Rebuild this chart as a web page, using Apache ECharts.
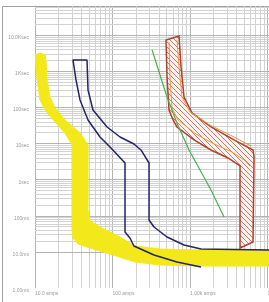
<!DOCTYPE html>
<html><head><meta charset="utf-8">
<script src="https://cdn.jsdelivr.net/npm/echarts@6/dist/echarts.min.js"></script>
<style>html,body{margin:0;padding:0;background:#fff}#c{width:269px;height:302px}</style>
</head><body><div id="c"></div>
<script>
// Axis ticks
const xTickValues = [10, 100, 1000, 10000];
const xTickLabels = ['10.0 amps', '100 amps', '1.00k amps', '10.0k amps'];
const yTickValues = [0.001, 0.01, 0.1, 1, 10, 100, 1000, 10000];
const yTickLabels = ['1.00ms', '10.0ms', '100ms', '1sec', '10sec', '100sec', '1Ksec', '10.0Ksec'];

// Yellow band (amps, seconds): outer edge then inner edge back
const yellowOuter = [[10,2845],[10.3,1094],[10.9,420],[11.6,161],[13.5,85.3],[18.1,39.6],[24.4,19.7],[30,9.15],[30,0.0405],[30.9,0.0243],[35.9,0.0166],[51.3,0.0128],[92.9,0.00875],[195,0.00525],[410,0.00434],[1346,0.00406],[10450,0.00406]];
const yellowInner = [[10450,0.0113],[1346,0.0113],[410,0.0120],[195,0.0146],[125,0.0259],[69,0.0490],[51.3,0.0718],[48.3,0.145],[48.3,9.15],[38.1,19.7],[24.4,45.1],[18.1,96.9],[15.6,195],[14.3,578],[13.9,1820],[13.5,2845],[11.6,3236]];

// Blue breaker curve
const blueCurve = [[1387,0.00382],[679,0.00525],[343,0.00820],[189,0.0146],[168,0.0243],[145,0.0356],[145,2.90],[92.9,8.05],[69,15.2],[48.3,45.1],[38.1,161],[33.8,578],[30.9,2070],[46.9,2070],[48.3,305],[56,85.3],[85,28.8],[125,15.2],[189,9.75],[233,6.65],[296,2.90],[296,0.0766],[343,0.0490],[505,0.0259],[837,0.0155],[1387,0.0120],[10450,0.0113]];

// Green curve
const greenCurve = [[324,3917],[505,195],[679,37.2],[971,6.65],[1866,0.519],[2748,0.0927]];

// Red hatched band outline
const redBand = [[490,7410],[505,700],[536,85.3],[604,45.1],[679,28.8],[1127,12.6],[1866,6.65],[3092,3.99],[4418,2.40],[4418,0.0128],[6500,0.0188],[6700,4.25],[6500,6.65],[3698,12.6],[1866,28.8],[1062,70.4],[837,195],[766,1324],[721,9570]];
const orangeLeft = [[536,6518],[552,700],[586,96.9],[700,45.1],[1194,18.4],[2042,9.75],[3483,5.85],[4977,3.51],[5943,2.40]];
const orangeRight = [[679,7410],[721,1324],[788,195],[1000,75.0],[1813,32.7],[3698,15.2],[6126,8.58]];

function gridVals(minExp, maxExp, maxVal) {
  const out = [];
  for (let e = minExp; e <= maxExp; e++) {
    for (let k = 1; k <= 9; k++) {
      const v = k * Math.pow(10, e);
      if (v <= maxVal) out.push({ v: v, major: k === 1 });
    }
  }
  return out;
}
const X_MIN = 10, X_MAX = 10450, Y_MIN = 0.001, Y_MAX = 64600;
const xGrid = gridVals(1, 4, X_MAX);
const yGrid = gridVals(-3, 4, Y_MAX);

function labelFor(values, labels) {
  return function (v) {
    for (let i = 0; i < values.length; i++) {
      if (Math.abs(Math.log10(values[i]) - Math.log10(v)) < 1e-6) return labels[i];
    }
    return '';
  };
}

// hatch pattern
const pc = document.createElement('canvas');
pc.width = 5; pc.height = 5;
const pctx = pc.getContext('2d');
pctx.fillStyle = '#fbf3f0'; pctx.fillRect(0, 0, 5, 5);
pctx.strokeStyle = '#c25a45'; pctx.lineWidth = 0.8;
pctx.beginPath();
pctx.moveTo(-1, -1); pctx.lineTo(6, 6);
pctx.moveTo(-1, 4); pctx.lineTo(1, 6);
pctx.moveTo(4, -1); pctx.lineTo(6, 1);
pctx.stroke();

function polySeries(points, style, z) {
  return {
    type: 'custom', zlevel: 1, z: z, silent: true, clip: true,
    data: points,
    renderItem: function (params, api) {
      if (params.dataIndex !== 0) return null;
      const pts = points.map(function (p) { return api.coord(p); });
      return { type: 'polygon', shape: { points: pts }, style: style };
    }
  };
}

const gridLineData = [];
xGrid.forEach(function (g) { gridLineData.push({ xAxis: g.v, lineStyle: { color: g.major ? '#b4b4b4' : '#d2d2d2', width: 1, type: 'solid' } }); });
yGrid.forEach(function (g) { gridLineData.push({ yAxis: g.v, lineStyle: { color: g.major ? '#b4b4b4' : '#d2d2d2', width: 1, type: 'solid' } }); });

const chart = echarts.init(document.getElementById('c'), null, { renderer: 'canvas' });
chart.setOption({
  animation: false,
  backgroundColor: '#fff',
  textStyle: { fontFamily: 'Liberation Sans' },
  graphic: [{ type: 'rect', shape: { x: 2.5, y: 6.5, width: 300, height: 300 }, style: { fill: 'none', stroke: '#a0a0a0', lineWidth: 1 }, z: 0 }],
  grid: { left: 35, top: 6, right: 0, bottom: 14, containLabel: false, outerBoundsMode: 'none' },
  xAxis: {
    type: 'log', logBase: 10, min: X_MIN, max: X_MAX, interval: 1,
    axisLine: { show: false },
    axisTick: { show: false },
    splitLine: { show: false },
    axisLabel: { fontSize: 5, color: '#9a9a9a', margin: 3, align: 'left', alignMaxLabel: 'left', formatter: labelFor(xTickValues, xTickLabels), showMaxLabel: true, hideOverlap: false }
  },
  yAxis: {
    type: 'log', logBase: 10, min: Y_MIN, max: Y_MAX, interval: 1,
    axisLine: { show: true, lineStyle: { color: '#b4b4b4' } },
    axisTick: { show: false },
    splitLine: { show: false },
    axisLabel: { fontSize: 5, color: '#9a9a9a', margin: 6, verticalAlign: 'top', formatter: labelFor(yTickValues, yTickLabels) }
  },
  series: [
    { type: 'line', data: [], zlevel: 0, z: 1, silent: true,
      markLine: { silent: true, symbol: ['none', 'none'], label: { show: false }, animation: false, data: gridLineData } },
    polySeries(yellowOuter.concat(yellowInner), { fill: '#f3e81a', stroke: '#f3e81a', lineWidth: 1, lineJoin: 'round' }, 2),
    polySeries(redBand, { fill: { image: pc, repeat: 'repeat' }, stroke: '#b0402c', lineWidth: 1.5 }, 3),
    { type: 'line', data: orangeLeft, zlevel: 1, z: 4, symbol: 'none', silent: true, lineStyle: { color: '#e49a4a', width: 1 } },
    { type: 'line', data: orangeRight, zlevel: 1, z: 4, symbol: 'none', silent: true, lineStyle: { color: '#e49a4a', width: 1 } },
    { type: 'line', data: greenCurve, zlevel: 1, z: 5, symbol: 'none', silent: true, lineStyle: { color: '#4cae4c', width: 1.2 } },
    { type: 'line', data: blueCurve, zlevel: 1, z: 6, symbol: 'none', silent: true, lineStyle: { color: '#23236e', width: 1.5 } }
  ]
});
</script>
</body></html>
